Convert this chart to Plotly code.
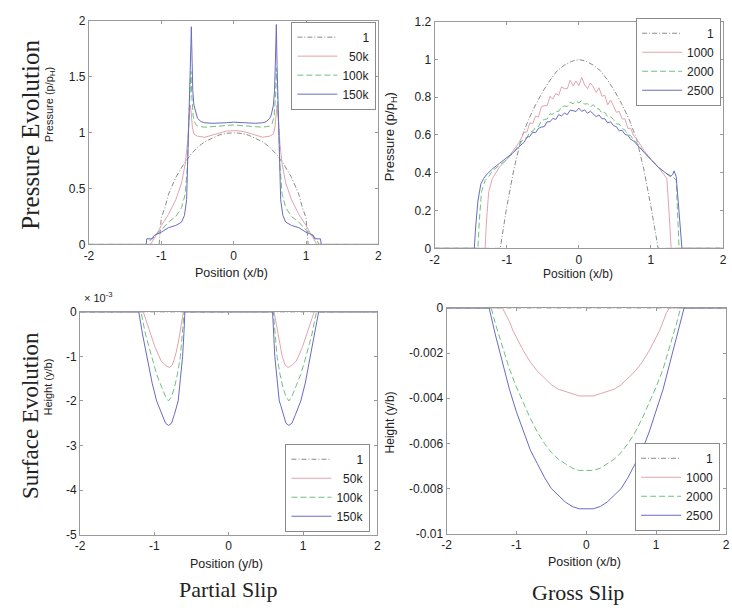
import plotly.graph_objects as go

# ---------------- data ----------------
# Partial slip: contact pressure (p/pH) vs position (x/b)
ps_p_labels = ["1", "50k", "100k", "150k"]

ps_p1_x = [-2, -1.03, -1.0, -0.95, -0.9, -0.8, -0.7, -0.6, -0.5, -0.4, -0.3, -0.2, -0.1, 0,
           0.1, 0.2, 0.3, 0.4, 0.5, 0.6, 0.7, 0.8, 0.9, 0.95, 1.0, 1.03, 2]
ps_p1_y = [0, 0, 0.24, 0.33, 0.45, 0.6, 0.71, 0.8, 0.87, 0.92, 0.95, 0.98, 0.995, 1.0,
           0.995, 0.98, 0.95, 0.92, 0.87, 0.8, 0.71, 0.6, 0.45, 0.33, 0.24, 0, 0]

ps_p50_x = [-2, -1.15, -1.1, -1.0, -0.9, -0.8, -0.72, -0.67, -0.64, -0.62, -0.6, -0.59, -0.57,
            -0.55, -0.5, -0.4, -0.3, -0.2, -0.1, 0, 0.1, 0.2, 0.3, 0.4, 0.5, 0.55, 0.57, 0.59,
            0.6, 0.62, 0.64, 0.67, 0.72, 0.8, 0.9, 1.0, 1.1, 1.15, 2]
ps_p50_y = [0, 0, 0.05, 0.17, 0.27, 0.4, 0.55, 0.72, 0.9, 1.1, 1.25, 1.2, 1.05,
            0.99, 0.97, 0.96, 0.98, 1.0, 1.015, 1.02, 1.015, 1.0, 0.98, 0.96, 0.97, 0.99, 1.05, 1.2,
            1.25, 1.1, 0.9, 0.72, 0.55, 0.4, 0.27, 0.17, 0.05, 0, 0]

ps_p100_x = [-2, -1.18, -1.15, -1.1, -1.0, -0.9, -0.8, -0.72, -0.67, -0.64, -0.62, -0.6, -0.59,
             -0.58, -0.56, -0.53, -0.5, -0.4, -0.3, -0.2, -0.1, 0, 0.1, 0.2, 0.3, 0.4, 0.5,
             0.53, 0.56, 0.58, 0.59, 0.6, 0.62, 0.64, 0.67, 0.72, 0.8, 0.9, 1.0, 1.1, 1.15, 1.18, 2]
ps_p100_y = [0, 0, 0.04, 0.08, 0.13, 0.2, 0.25, 0.33, 0.45, 0.7, 1.1, 1.45, 1.55,
             1.35, 1.15, 1.08, 1.06, 1.05, 1.055, 1.06, 1.065, 1.07, 1.065, 1.06, 1.055, 1.05, 1.06,
             1.08, 1.15, 1.35, 1.58, 1.45, 1.1, 0.7, 0.45, 0.33, 0.25, 0.2, 0.13, 0.08, 0.04, 0, 0]

ps_p150_x = [-2, -1.21, -1.2, -1.12, -1.1, -1.0, -0.9, -0.8, -0.72, -0.68, -0.65, -0.63, -0.62,
             -0.61, -0.6, -0.59, -0.585, -0.575, -0.565, -0.55, -0.52, -0.5, -0.45, -0.4, -0.3,
             -0.2, -0.1, 0, 0.1, 0.2, 0.3, 0.4, 0.45, 0.5, 0.52, 0.55, 0.565, 0.575, 0.59, 0.6,
             0.61, 0.62, 0.63, 0.65, 0.68, 0.72, 0.8, 0.9, 1.0, 1.1, 1.12, 1.2, 1.21, 2]
ps_p150_y = [0, 0, 0.05, 0.05, 0.08, 0.11, 0.15, 0.17, 0.2, 0.26, 0.4, 0.8, 1.1,
             1.4, 1.6, 1.8, 1.95, 1.6, 1.38, 1.25, 1.16, 1.13, 1.1, 1.09, 1.085,
             1.085, 1.09, 1.095, 1.09, 1.085, 1.085, 1.09, 1.1, 1.13, 1.16, 1.25, 1.38, 1.6, 1.97, 1.6,
             1.4, 1.1, 0.8, 0.4, 0.26, 0.2, 0.17, 0.15, 0.11, 0.08, 0.05, 0.05, 0, 0]

# Gross slip: contact pressure (p/pH) vs position (x/b)
gs_p_labels = ["1", "1000", "2000", "2500"]

gs_p1_x = [-2, -1.09, -1.0, -0.9, -0.8, -0.7, -0.6, -0.5, -0.4, -0.3, -0.2, -0.1, 0,
           0.1, 0.2, 0.3, 0.4, 0.5, 0.6, 0.7, 0.8, 0.9, 1.0, 1.1, 2]
gs_p1_y = [0, 0, 0.22, 0.42, 0.58, 0.68, 0.76, 0.83, 0.89, 0.94, 0.97, 0.99, 1.0,
           0.99, 0.97, 0.94, 0.89, 0.83, 0.76, 0.68, 0.58, 0.42, 0.22, 0, 0]

# shared abscissa of the central (noisy) part of the worn profiles
gs_xc = [-0.80, -0.76, -0.72, -0.68, -0.64, -0.60, -0.56, -0.52, -0.48, -0.44, -0.40,
         -0.36, -0.32, -0.28, -0.24, -0.20, -0.16, -0.12, -0.08, -0.04, 0.00, 0.04, 0.08,
         0.12, 0.16, 0.20, 0.24, 0.28, 0.32, 0.36, 0.40, 0.44, 0.48, 0.52, 0.56, 0.60,
         0.64, 0.68, 0.72, 0.76, 0.80]

gs_p1000_xl = [-2, -1.3, -1.28, -1.25, -1.2, -1.1, -1.0, -0.9, -0.84]
gs_p1000_yl = [0, 0, 0.15, 0.3, 0.37, 0.43, 0.47, 0.52, 0.555]
gs_p1000_yc = [0.58, 0.615, 0.615, 0.665, 0.66, 0.70, 0.695, 0.75, 0.755, 0.755, 0.805,
               0.79, 0.82, 0.81, 0.855, 0.845, 0.845, 0.89, 0.86, 0.885, 0.86, 0.905, 0.865,
               0.845, 0.875, 0.855, 0.825, 0.85, 0.805, 0.81, 0.76, 0.785, 0.755, 0.72, 0.725,
               0.685, 0.685, 0.635, 0.635, 0.595, 0.58]
gs_p1000_xr = [0.84, 0.9, 1.0, 1.1, 1.18, 1.22, 1.25, 1.28, 2]
gs_p1000_yr = [0.555, 0.52, 0.47, 0.43, 0.39, 0.37, 0.2, 0, 0]

gs_p2000_xl = [-2, -1.4, -1.38, -1.35, -1.3, -1.25, -1.2, -1.1, -1.0, -0.9, -0.84]
gs_p2000_yl = [0, 0, 0.15, 0.3, 0.36, 0.38, 0.41, 0.44, 0.47, 0.51, 0.54]
gs_p2000_yc = [0.56, 0.583, 0.586, 0.615, 0.62, 0.641, 0.644, 0.675, 0.682, 0.685, 0.712,
               0.71, 0.726, 0.724, 0.75, 0.753, 0.751, 0.774, 0.765, 0.778, 0.771, 0.782,
               0.763, 0.766, 0.749, 0.76, 0.74, 0.738, 0.715, 0.72, 0.696, 0.696, 0.682,
               0.659, 0.658, 0.635, 0.626, 0.601, 0.596, 0.573, 0.56]
gs_p2000_xr = [0.84, 0.9, 1.0, 1.1, 1.2, 1.3, 1.35, 1.37, 1.39, 2]
gs_p2000_yr = [0.54, 0.51, 0.47, 0.43, 0.4, 0.38, 0.36, 0.2, 0, 0]

gs_p2500_xl = [-2, -1.45, -1.43, -1.4, -1.36, -1.32, -1.28, -1.2, -1.1, -1.0, -0.9, -0.84]
gs_p2500_yl = [0, 0, 0.12, 0.25, 0.34, 0.37, 0.39, 0.42, 0.45, 0.48, 0.51, 0.535]
gs_p2500_yc = [0.55, 0.561, 0.588, 0.593, 0.615, 0.612, 0.635, 0.642, 0.644, 0.67, 0.67,
               0.688, 0.682, 0.708, 0.701, 0.716, 0.708, 0.731, 0.729, 0.724, 0.742, 0.725,
               0.733, 0.715, 0.726, 0.71, 0.697, 0.706, 0.686, 0.686, 0.664, 0.67, 0.65,
               0.644, 0.622, 0.625, 0.603, 0.599, 0.576, 0.569, 0.55]
gs_p2500_xr = [0.84, 0.9, 1.0, 1.1, 1.2, 1.27, 1.3, 1.32, 1.35, 1.38, 1.41, 1.43, 2]
gs_p2500_yr = [0.535, 0.51, 0.47, 0.43, 0.4, 0.38, 0.39, 0.41, 0.38, 0.25, 0.1, 0, 0]

# Partial slip: surface height (y/b) vs position (y/b)
ps_h_labels = ["1", "50k", "100k", "150k"]

ps_h1_x = [-2, 2]
ps_h1_y = [0, 0]

ps_h50_x = [-2, -1.15, -1.07, -0.99, -0.91, -0.85, -0.8, -0.76, -0.72, -0.68, -0.64, -0.61,
            0.61, 0.64, 0.68, 0.72, 0.76, 0.8, 0.85, 0.91, 0.99, 1.07, 1.15, 2]
ps_h50_y = [0, 0, -0.0004, -0.0008, -0.0011, -0.0012, -0.00125, -0.0012, -0.001, -0.0007,
            -0.0003, 0,
            0, -0.0003, -0.0007, -0.001, -0.0012, -0.00125, -0.0012, -0.0011, -0.0008, -0.0004,
            0, 0]

ps_h100_x = [-2, -1.18, -1.12, -1.04, -0.97, -0.9, -0.85, -0.81, -0.77, -0.73, -0.69, -0.65,
             -0.62, -0.6,
             0.6, 0.62, 0.65, 0.69, 0.73, 0.77, 0.81, 0.85, 0.9, 0.97, 1.04, 1.12, 1.18, 2]
ps_h100_y = [0, 0, -0.0005, -0.001, -0.0014, -0.0017, -0.0019, -0.002, -0.0019, -0.0017,
             -0.0014, -0.001, -0.0005, 0,
             0, -0.0005, -0.001, -0.0014, -0.0017, -0.0019, -0.002, -0.0019, -0.0017, -0.0014,
             -0.001, -0.0005, 0, 0]

ps_h150_x = [-2, -1.21, -1.16, -1.1, -1.03, -0.97, -0.9, -0.85, -0.81, -0.77, -0.73, -0.7,
             -0.68, -0.65, -0.62, -0.6, -0.59,
             0.59, 0.6, 0.62, 0.65, 0.68, 0.7, 0.73, 0.77, 0.81, 0.85, 0.9, 0.97, 1.03, 1.1,
             1.16, 1.21, 2]
ps_h150_y = [0, 0, -0.0005, -0.001, -0.0016, -0.002, -0.0023, -0.0025, -0.00255, -0.0025,
             -0.0023, -0.0021, -0.002, -0.0015, -0.001, -0.0004, 0,
             0, -0.0004, -0.001, -0.0015, -0.002, -0.0021, -0.0023, -0.0025, -0.00255, -0.0025,
             -0.0023, -0.002, -0.0016, -0.001, -0.0005, 0, 0]

# Gross slip: surface height (y/b) vs position (x/b)
gs_h_labels = ["1", "1000", "2000", "2500"]

gs_h1_x = [-2, 2]
gs_h1_y = [0, 0]

gs_h1000_x = [-2, -1.2, -1.15, -1.1, -1.05, -1.0, -0.9, -0.8, -0.7, -0.6, -0.5, -0.4, -0.3,
              -0.2, -0.1, 0, 0.1, 0.2, 0.3, 0.4, 0.5, 0.6, 0.7, 0.8, 0.9, 1.0, 1.05, 1.1,
              1.15, 1.19, 2]
gs_h1000_y = [0, 0, -0.0003, -0.0006, -0.001, -0.0013, -0.0019, -0.0024, -0.0028, -0.0031,
              -0.0034, -0.0036, -0.0037, -0.0038, -0.0039, -0.0039, -0.0039, -0.0038, -0.0037,
              -0.0036, -0.0034, -0.0031, -0.0028, -0.0024, -0.0019, -0.0013, -0.001, -0.0006,
              -0.0002, 0, 0]

gs_h2000_x = [-2, -1.36, -1.3, -1.2, -1.1, -1.0, -0.9, -0.8, -0.7, -0.6, -0.5, -0.4, -0.3,
              -0.2, -0.1, 0, 0.1, 0.2, 0.3, 0.4, 0.5, 0.6, 0.7, 0.8, 0.9, 1.0, 1.1, 1.2, 1.3,
              1.35, 2]
gs_h2000_y = [0, 0, -0.0007, -0.0017, -0.0027, -0.0035, -0.0042, -0.0049, -0.0055, -0.006,
              -0.0064, -0.0067, -0.0069, -0.0071, -0.0072, -0.0072, -0.0072, -0.0071, -0.0069,
              -0.0067, -0.0064, -0.006, -0.0055, -0.0049, -0.0042, -0.0035, -0.0027, -0.0017,
              -0.0006, 0, 0]

gs_h2500_x = [-2, -1.39, -1.3, -1.2, -1.1, -1.0, -0.9, -0.8, -0.7, -0.6, -0.5, -0.4, -0.3,
              -0.2, -0.1, 0, 0.1, 0.2, 0.3, 0.4, 0.5, 0.6, 0.7, 0.8, 0.9, 1.0, 1.1, 1.2, 1.3,
              1.4, 2]
gs_h2500_y = [0, 0, -0.0012, -0.0024, -0.0036, -0.0046, -0.0055, -0.0063, -0.0069, -0.0075,
              -0.008, -0.0083, -0.0086, -0.0088, -0.0089, -0.0089, -0.0089, -0.0088, -0.0086,
              -0.0083, -0.008, -0.0075, -0.0069, -0.0063, -0.0055, -0.0046, -0.0036, -0.0024,
              -0.0012, 0, 0]

# axis ticks
x_ticks = [-2, -1, 0, 1, 2]
x_ticktext = ["-2", "-1", "0", "1", "2"]
ps_p_yticks = [0, 0.5, 1, 1.5, 2]
ps_p_yticktext = ["0", "0.5", "1", "1.5", "2"]
gs_p_yticks = [0, 0.2, 0.4, 0.6, 0.8, 1.0, 1.2]
gs_p_yticktext = ["0", "0.2", "0.4", "0.6", "0.8", "1", "1.2"]
ps_h_yticks = [-0.005, -0.004, -0.003, -0.002, -0.001, 0]
ps_h_yticktext = ["-5", "-4", "-3", "-2", "-1", "0"]
gs_h_yticks = [-0.01, -0.008, -0.006, -0.004, -0.002, 0]
gs_h_yticktext = ["-0.01", "-0.008", "-0.006", "-0.004", "-0.002", "0"]

# ---------------- styling ----------------
SANS = "Liberation Sans, Arial, sans-serif"
SERIF = "Liberation Serif, Times New Roman, serif"
TXT = "#222222"
FRAME = "#9a9a9a"

styles = [
    dict(color="#8a8a8a", dash="5px,2px,1px,2px", width=1),   # first cycle
    dict(color="#e2a3ad", dash="solid", width=1),
    dict(color="#6fc07f", dash="6px,3px", width=1),
    dict(color="#6a6ac2", dash="solid", width=1),
]


def pad(label):
    # right-align legend entries by padding with figure spaces
    return "\u2007" * (4 - len(label)) + label


fig = go.Figure()


def add_series(xs, ys, labels, xa, ya, leg):
    for i, (x, y, lab) in enumerate(zip(xs, ys, labels)):
        fig.add_trace(go.Scatter(
            x=x, y=y, mode="lines", name=pad(lab), line=styles[i],
            xaxis=xa, yaxis=ya, legend=leg, showlegend=True,
        ))


add_series([ps_p1_x, ps_p50_x, ps_p100_x, ps_p150_x],
           [ps_p1_y, ps_p50_y, ps_p100_y, ps_p150_y], ps_p_labels, "x", "y", "legend")

add_series([gs_p1_x,
            gs_p1000_xl + gs_xc + gs_p1000_xr,
            gs_p2000_xl + gs_xc + gs_p2000_xr,
            gs_p2500_xl + gs_xc + gs_p2500_xr],
           [gs_p1_y,
            gs_p1000_yl + gs_p1000_yc + gs_p1000_yr,
            gs_p2000_yl + gs_p2000_yc + gs_p2000_yr,
            gs_p2500_yl + gs_p2500_yc + gs_p2500_yr], gs_p_labels, "x2", "y2", "legend2")

add_series([ps_h1_x, ps_h50_x, ps_h100_x, ps_h150_x],
           [ps_h1_y, ps_h50_y, ps_h100_y, ps_h150_y], ps_h_labels, "x3", "y3", "legend3")

add_series([gs_h1_x, gs_h1000_x, gs_h2000_x, gs_h2500_x],
           [gs_h1_y, gs_h1000_y, gs_h2000_y, gs_h2500_y], gs_h_labels, "x4", "y4", "legend4")

W, H = 732, 610


def px_x(v):
    return v / W


def px_y(v):
    return 1 - v / H


def axis(domain, ticks, ticktext, rng, anchor):
    return dict(domain=domain, range=rng, tickvals=ticks, ticktext=ticktext,
                showgrid=False, zeroline=False, showline=True, linecolor=FRAME, linewidth=1,
                mirror="ticks", ticks="inside", ticklen=3, tickcolor=FRAME,
                tickfont=dict(family=SANS, size=12, color=TXT), anchor=anchor)


def legend_box(x, y):
    return dict(x=px_x(x), y=px_y(y), xanchor="right", yanchor="top",
                bgcolor="white", bordercolor="#8a8a8a", borderwidth=1,
                font=dict(family=SANS, size=12, color=TXT),
                itemwidth=40, tracegroupgap=0)


layout = dict(
    width=W, height=H, margin=dict(l=0, r=0, t=0, b=0),
    paper_bgcolor="white", plot_bgcolor="white",
    xaxis=axis([px_x(85), px_x(378)], x_ticks, x_ticktext, [-2, 2], "y"),
    yaxis=axis([px_y(243), px_y(14.5)], ps_p_yticks, ps_p_yticktext, [0, 2], "x"),
    xaxis2=axis([px_x(435), px_x(727)], x_ticks, x_ticktext, [-2, 2], "y2"),
    yaxis2=axis([px_y(247), px_y(15)], gs_p_yticks, gs_p_yticktext, [0, 1.2], "x2"),
    xaxis3=axis([px_x(76), px_x(377)], x_ticks, x_ticktext, [-2, 2], "y3"),
    yaxis3=axis([px_y(540), px_y(312)], ps_h_yticks, ps_h_yticktext, [-0.005, 0], "x3"),
    xaxis4=axis([px_x(447), px_x(730)], x_ticks, x_ticktext, [-2, 2], "y4"),
    yaxis4=axis([px_y(539), px_y(308)], gs_h_yticks, gs_h_yticktext, [-0.01, 0], "x4"),
    legend=legend_box(376, 15),
    legend2=legend_box(725, 11),
    legend3=legend_box(370, 447),
    legend4=legend_box(724, 446),
    showlegend=True,
)
fig.update_layout(**layout)


def note(text, x, y, size, family=SANS, angle=0, xanchor="center", yanchor="middle"):
    fig.add_annotation(text=text, x=px_x(x), y=px_y(y), xref="paper", yref="paper",
                       showarrow=False, textangle=angle, xanchor=xanchor, yanchor=yanchor,
                       font=dict(family=family, size=size, color=TXT))


# row titles
note("Pressure Evolution", 26, 131, 25, SERIF, -90)
note("Surface Evolution", 26, 418, 23, SERIF, -90)
# y-axis labels
note("Pressure (p/p<sub>H</sub>)", 45, 100, 11, angle=-90)
note("Pressure (p/p<sub>H</sub>)", 391, 133, 13, angle=-90)
note("Height (y/b)", 44, 389, 11, angle=-90)
note("Height (y/b)", 390, 425, 12, angle=-90)
# x-axis labels
note("Position (x/b)", 229, 272, 12.5)
note("Position (x/b)", 580, 273, 12)
note("Position (y/b)", 224, 570, 12.5)
note("Position (x/b)", 587, 568, 12.5)
# exponent of the partial-slip height axis
note("\u00d7 10<sup>-3</sup>", 78, 306, 11, xanchor="left", yanchor="bottom")
# column titles
note("Partial Slip", 226, 596, 22, SERIF)
note("Gross Slip", 580, 599, 22, SERIF)

fig.write_html("out.html")
